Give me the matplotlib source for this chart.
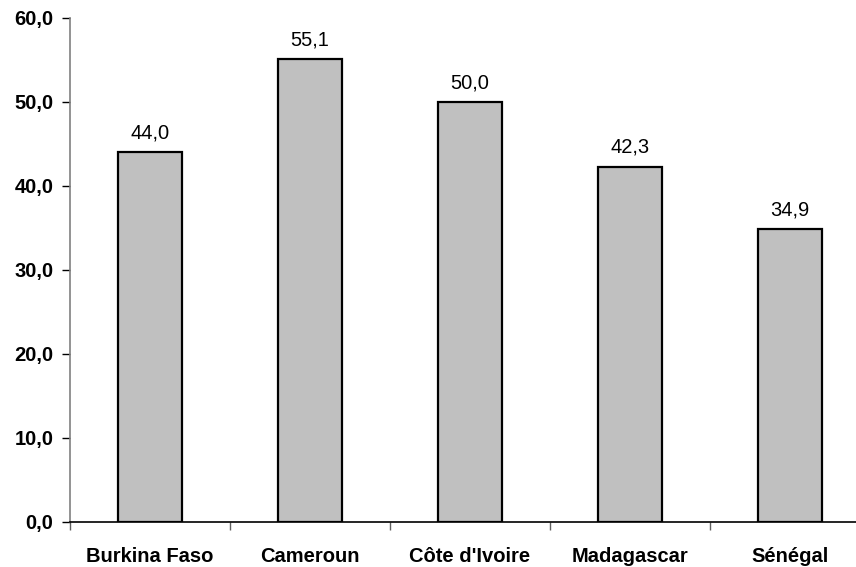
import matplotlib
matplotlib.use("Agg")
import matplotlib.pyplot as plt
import numpy as np
from matplotlib.ticker import FixedLocator, FuncFormatter

categories = ["Burkina Faso", "Cameroun", "Côte d'Ivoire", "Madagascar", "Sénégal"]
values = [44.0, 55.1, 50.0, 42.3, 34.9]
yticks = [0, 10, 20, 30, 40, 50, 60]

plt.rcParams['font.family'] = ['Liberation Sans', 'DejaVu Sans']

fig = plt.figure(figsize=(8.56, 5.67), dpi=100)
ax = fig.add_axes([70/856, 1-522/567, 800/856, 504/567])

x = np.arange(len(categories))
ax.bar(x, values, width=0.4, color="#c0c0c0", edgecolor="black", linewidth=1.6, zorder=3)
for xi, v in zip(x, values):
    ax.annotate(f"{v:.1f}".replace(".", ","), (xi, v), xytext=(0, 7), textcoords="offset points",
                ha="center", va="bottom", fontsize=14.5)

ax.set_xlim(-0.5, len(categories) - 0.5)
ax.set_ylim(0, 60)
ax.set_yticks(yticks)
ax.yaxis.set_major_formatter(FuncFormatter(lambda v, p: f"{v:.1f}".replace(".", ",")))
ax.tick_params(axis="y", length=6, width=1, pad=6, labelsize=14.5)
for lab in ax.get_yticklabels():
    lab.set_fontweight("bold")

ax.set_xticks(x)
ax.set_xticklabels(categories, fontsize=14.5, fontweight="bold")
ax.tick_params(axis="x", which="major", length=0, pad=18)
ax.xaxis.set_minor_locator(FixedLocator(np.arange(-0.5, len(categories), 1.0)))
ax.tick_params(axis="x", which="minor", length=6, width=1, color="#606060")

for s in ["top", "right"]:
    ax.spines[s].set_visible(False)
ax.spines["left"].set_color("#808080")
ax.spines["left"].set_linewidth(1.2)
ax.spines["bottom"].set_color("black")
ax.spines["bottom"].set_linewidth(1.2)

fig.savefig("out.png", dpi=100)
